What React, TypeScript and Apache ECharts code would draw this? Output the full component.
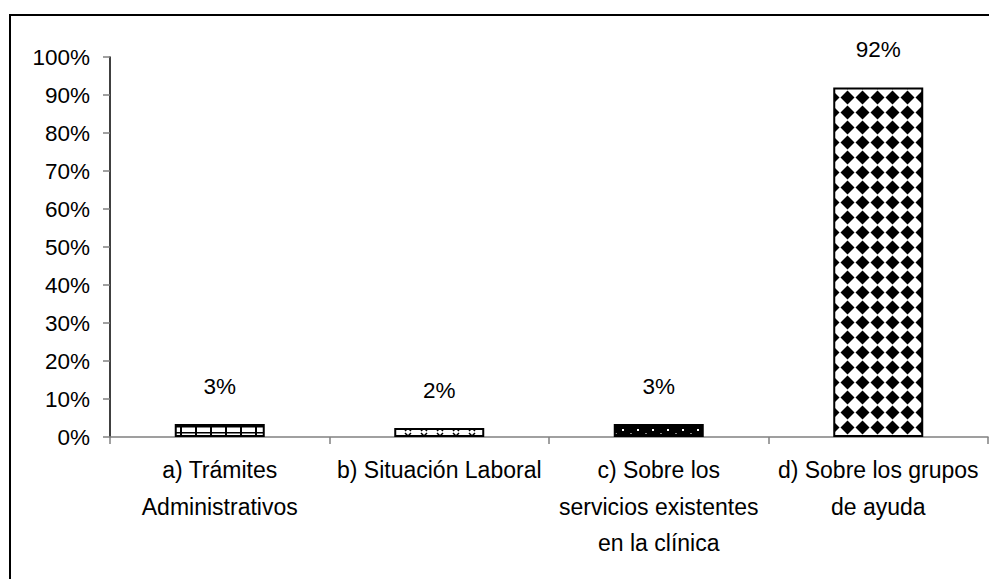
import React, { useEffect, useRef } from "react";
import * as echarts from "echarts";

const categories = [
  "a) Trámites\nAdministrativos",
  "b) Situación Laboral",
  "c) Sobre los\nservicios existentes\nen la clínica",
  "d) Sobre los grupos\nde ayuda",
];
const values = [3.4, 2.4, 3.4, 92];
const patternKinds = ["grid", "cross", "dots", "diamond"];

function makePattern(kind: string): HTMLCanvasElement {
  const c = document.createElement("canvas");
  const ctx = c.getContext("2d")!;
  if (kind === "grid") {
    c.width = 15; c.height = 6;
    ctx.fillStyle = "#fff"; ctx.fillRect(0, 0, 15, 6);
    ctx.fillStyle = "#000";
    ctx.fillRect(0, 0, 2, 6);
    ctx.fillRect(0, 0, 15, 1.5);
  } else if (kind === "cross") {
    c.width = 16; c.height = 8;
    ctx.fillStyle = "#fff"; ctx.fillRect(0, 0, 16, 8);
    ctx.strokeStyle = "#000"; ctx.lineWidth = 1.5;
    ctx.beginPath();
    ctx.moveTo(5, 1); ctx.lineTo(11, 7);
    ctx.moveTo(11, 1); ctx.lineTo(5, 7);
    ctx.stroke();
  } else if (kind === "dots") {
    c.width = 15; c.height = 8;
    ctx.fillStyle = "#000"; ctx.fillRect(0, 0, 15, 8);
    ctx.fillStyle = "#fff";
    ctx.fillRect(7, 5, 2, 2);
    ctx.fillStyle = "#888";
    ctx.fillRect(0, 1, 2, 1);
  } else {
    c.width = 15; c.height = 15;
    ctx.fillStyle = "#fff"; ctx.fillRect(0, 0, 15, 15);
    ctx.fillStyle = "#000";
    ctx.beginPath();
    ctx.moveTo(7.5, 0.5); ctx.lineTo(14.5, 7.5); ctx.lineTo(7.5, 14.5); ctx.lineTo(0.5, 7.5);
    ctx.closePath();
    ctx.fill();
  }
  return c;
}

export default function App() {
  const ref = useRef<HTMLDivElement>(null);
  useEffect(() => {
    if (!ref.current) return;
    const chart = echarts.init(ref.current, null, { renderer: "svg" });
    const font = "'Liberation Sans', Arial, sans-serif";
    chart.setOption({
      animation: false,
      backgroundColor: "#ffffff",
      graphic: [
        {
          type: "rect",
          shape: { x: 10, y: 15, width: 1100, height: 700 },
          style: { fill: "none", stroke: "#000", lineWidth: 2 },
          silent: true,
        },
      ],
      grid: { left: 110, right: 1, top: 57, bottom: 142, containLabel: false },
      xAxis: {
        type: "category",
        data: categories,
        axisLine: { lineStyle: { color: "#808080", width: 1.5 } },
        axisTick: { show: true, length: 7, lineStyle: { color: "#808080", width: 1.5 } },
        axisLabel: {
          interval: 0,
          margin: 15,
          color: "#000",
          fontFamily: font,
          fontSize: 23,
          lineHeight: 36.5,
        },
      },
      yAxis: {
        type: "value",
        min: 0,
        max: 100,
        interval: 10,
        axisLine: { show: true, lineStyle: { color: "#000", width: 1.5 } },
        axisTick: { show: true, length: 7, lineStyle: { color: "#808080", width: 1.5 } },
        splitLine: { show: false },
        axisLabel: {
          formatter: "{value}%",
          margin: 20,
          color: "#000",
          fontFamily: font,
          fontSize: 22.5,
        },
      },
      series: [
        {
          type: "bar",
          barWidth: 90,
          data: values.map((v, i) => ({
            value: v,
            itemStyle: {
              color: { image: makePattern(patternKinds[i]), repeat: "repeat" },
              borderColor: "#000",
              borderWidth: 2,
            },
          })),
          label: {
            show: true,
            position: "top",
            distance: 26,
            formatter: (p: any) => Math.round(p.value) + "%",
            color: "#000",
            fontFamily: font,
            fontSize: 22.5,
          },
        },
      ],
    });
    return () => chart.dispose();
  }, []);
  return (
    <div
      ref={ref}
      style={{ position: "fixed", left: 0, top: 0, width: 989, height: 579, background: "#fff" }}
    />
  );
}
